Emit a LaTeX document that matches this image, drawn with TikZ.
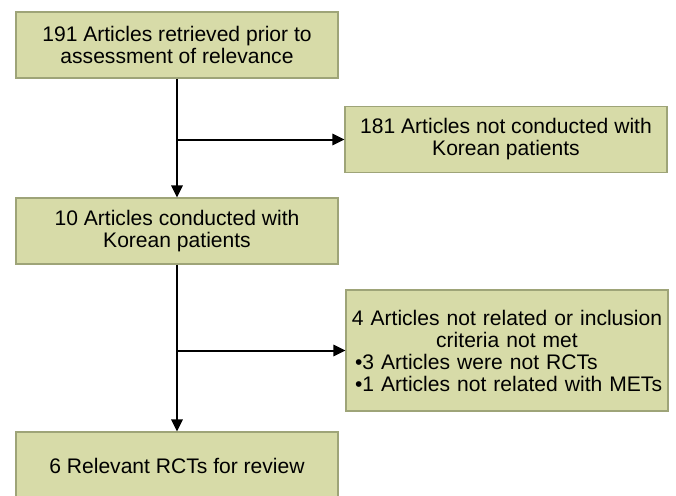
\documentclass[tikz,border=0pt]{standalone}
\usepackage{fontspec}
\setmainfont{Liberation Sans}
\usepackage{tikz}
\usetikzlibrary{arrows.meta,positioning}
\definecolor{boxfill}{RGB}{215,219,168}
\definecolor{boxline}{RGB}{158,164,120}

\begin{document}
\begin{tikzpicture}[x=0.75pt, y=-0.75pt, font=\fontsize{15.8}{16.5}\selectfont,
    stage/.style={draw=boxline, fill=boxfill, line width=0.9pt, minimum width=241.5pt,
      minimum height=49.5pt, align=center, inner sep=2.5pt},
    flow/.style={line width=1.5pt, -{Triangle[length=9pt, width=8.5pt]}},
    branch/.style={line width=1.5pt}]
      \useasboundingbox (0,0) rectangle (676,496);
      % Main column
      \node[stage] (retrieved) at (177,45) {191 Articles retrieved prior to\\assessment of relevance};
      \node[stage] (korean) at (177,231) {10 Articles conducted with\\Korean patients};
      \node[stage, minimum height=51pt] (relevant) at (177,466) {6 Relevant RCTs for review};
      % Excluded boxes
      \node[stage] (notkorean) at (506,139.5) {181 Articles not conducted with\\Korean patients};
      \node[stage, minimum height=90.75pt, text width=236pt, align=left] (excluded) at (507,350.5)
        {{\centering 4 Articles not related or inclusion\\criteria not met\par}
         \hspace*{4pt}\textbullet 3 Articles were not RCTs\\
         \hspace*{4pt}\textbullet 1 Articles not related with METs};
      % Connectors
      \coordinate (split1) at (retrieved.south |- notkorean.west);
      \coordinate (split2) at (korean.south |- excluded.west);
      \draw[flow] (retrieved.south) -- (korean.north);
      \draw[flow] (split1) -- (notkorean.west);
      \draw[flow] (korean.south) -- (relevant.north);
      \draw[flow] (split2) -- (excluded.west);
\end{tikzpicture}
\end{document}
